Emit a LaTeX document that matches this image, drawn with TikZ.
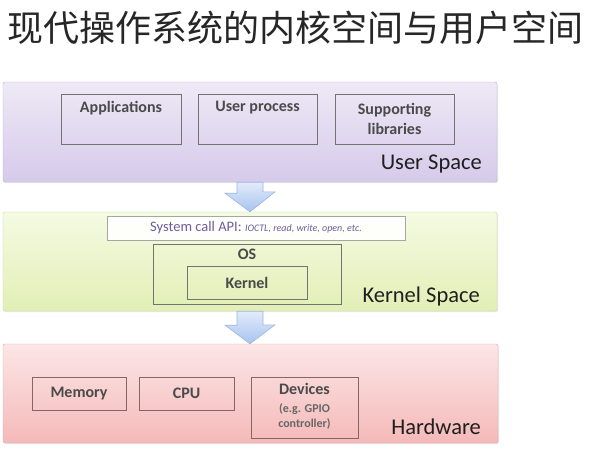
\documentclass[tikz,border=0pt]{standalone}
\usepackage{fontspec}
\setmainfont{Carlito}
\newfontfamily\cjk{Noto Sans CJK SC}
\usetikzlibrary{shadows}
\definecolor{txt}{HTML}{4A4A4A}
\definecolor{usertop}{HTML}{EEE9F6}
\definecolor{userbot}{HTML}{D6CAEA}
\definecolor{userline}{HTML}{BDB0D3}
\definecolor{kertop}{HTML}{F5FAE2}
\definecolor{kerbot}{HTML}{E2EFB6}
\definecolor{kerline}{HTML}{CAD99A}
\definecolor{hwtop}{HTML}{FCE6E6}
\definecolor{hwbot}{HTML}{F5B9B9}
\definecolor{hwline}{HTML}{E3A9A9}
\definecolor{arrtop}{HTML}{E2EBFB}
\definecolor{arrbot}{HTML}{A8C3EE}
\definecolor{arrline}{HTML}{9DB6E0}
\definecolor{apicol}{HTML}{6B5E9C}
\tikzset{
  layerbox/.style={rectangle, rounded corners=1.5pt, inner sep=0pt,
    drop shadow={opacity=0.18, shadow xshift=1pt, shadow yshift=-1.2pt}},
  userbox/.style={layerbox, draw=userline, top color=usertop, bottom color=userbot},
  kerbox/.style={layerbox, draw=kerline, top color=kertop, bottom color=kerbot},
  hwbox/.style={layerbox, draw=hwline, top color=hwtop, bottom color=hwbot},
  inbox/.style={rectangle, draw=#1, line width=0.8pt, inner sep=0pt},
  lbl/.style={font=\fontsize{16}{18}\selectfont\bfseries, text=txt, inner sep=0pt, align=center},
  spacelbl/.style={font=\fontsize{22.5}{26}\selectfont, text=black!88, inner sep=0pt, anchor=east},
  flow/.style={draw=arrline, line width=0.6pt, top color=arrtop, bottom color=arrbot}
}
\begin{document}
\begin{tikzpicture}[x=1pt,y=-1pt]
\useasboundingbox (0,0) rectangle (600,456);
\fill[white] (0,0) rectangle (600,456);

% title
\node[font=\cjk\fontsize{36}{40}\selectfont, text=black!85, inner sep=0pt] (title) at (296,28) {现代操作系统的内核空间与用户空间};

% layers
\node[userbox, minimum width=494pt, minimum height=100pt] (user) at (250,132) {};
\node[kerbox, minimum width=494pt, minimum height=99pt] (kernel) at (250,261.5) {};
\node[hwbox, minimum width=495pt, minimum height=99pt] (hw) at (250.5,393.5) {};

% user space content
\node[inbox=black!55, minimum width=120pt, minimum height=50pt,
  label={[lbl, anchor=north, yshift=-7pt]north:Applications}] (apps) at (121,119) {};
\node[inbox=black!55, minimum width=119pt, minimum height=50pt,
  label={[lbl, anchor=north, yshift=-7pt]north:User process}] (uproc) at (257.5,119) {};
\node[inbox=black!55, minimum width=119pt, minimum height=50pt, lbl,
  font=\fontsize{16}{20}\selectfont\bfseries] (libs) at (394.5,119) {Supporting\\libraries};
\node[spacelbl] (userlbl) at (482,164) {User Space};

% kernel space content
\node[inbox=black!35, fill=white!85!kertop, minimum width=298pt, minimum height=24pt,
  text=apicol, inner sep=0pt] (api) at (256,228)
  {\fontsize{14.5}{16}\selectfont System call API: \fontsize{10}{12}\selectfont\itshape IOCTL, read, write, open, etc.};
\node[inbox=black!55, minimum width=188pt, minimum height=60pt,
  label={[lbl, anchor=north, yshift=-5pt]north:OS}] (os) at (247,274) {};
\node[inbox=black!55, minimum width=120pt, minimum height=33pt, lbl] (kern) at (247,282.5) {Kernel};
\node[spacelbl] (kerlbl) at (480,296) {Kernel Space};

% hardware content
\node[inbox=hwline!60!black, minimum width=94pt, minimum height=33pt, lbl] (mem) at (79,393.5) {Memory};
\node[inbox=hwline!60!black, minimum width=95pt, minimum height=33pt, lbl] (cpu) at (186.5,393.5) {CPU};
\node[inbox=hwline!60!black, minimum width=107pt, minimum height=61pt,
  label={[lbl, anchor=north, yshift=-6pt, font=\fontsize{16}{18}\selectfont\bfseries]north:Devices},
  label={[lbl, anchor=north, yshift=-27pt, font=\fontsize{12}{15}\selectfont\bfseries, text=black!60]north:(e.g. GPIO\\controller)}] (dev) at (304.5,407.5) {};
\node[spacelbl] (hwlbl) at (481,427) {Hardware};

% flow arrows
\path[flow] ([xshift=-13pt]user.south) -- ++(0,11) -- ++(-12,0) -- (kernel.north)
  -- ++(25,-20) -- ++(-12,0) -- ([xshift=13pt]user.south) -- cycle;
\path[flow] ([xshift=-13pt]kernel.south) -- ++(0,14) -- ++(-12,0) -- (hw.north -| kernel.south)
  -- ++(25,-19) -- ++(-12,0) -- ([xshift=13pt]kernel.south) -- cycle;
\end{tikzpicture}
\end{document}
